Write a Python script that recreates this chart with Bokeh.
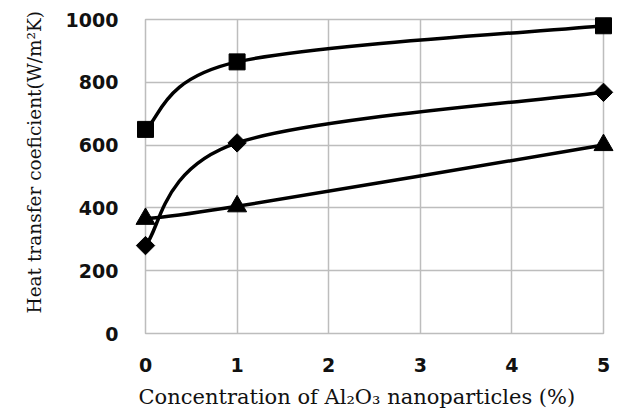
import numpy as np
from bokeh.plotting import figure
from bokeh.models import ColumnDataSource, FixedTicker, Range1d, Title
from bokeh.embed import file_html
from bokeh.resources import INLINE

# Nanoparticle concentration (%) and measured heat transfer coefficients (W/m2K)
concentration = [0, 1, 5]
series_square = [650, 865, 980]
series_diamond = [280, 607, 768]
series_triangle = [365, 405, 600]

x_ticks = [0, 1, 2, 3, 4, 5]
y_ticks = [0, 200, 400, 600, 800, 1000]

x_title = "Concentration of Al\u2082O\u2083 nanoparticles (%)"
y_title = "Heat transfer coeficient(W/m\u00b2K)"


def smooth_segments(xs, ys, t=1.0 / 6.0):
    """Cubic Bezier segments for a smoothed line through the points."""
    n = len(xs)
    seg = dict(x0=[], y0=[], x1=[], y1=[], cx0=[], cy0=[], cx1=[], cy1=[])
    for i in range(n - 1):
        xp, yp = (xs[i - 1], ys[i - 1]) if i > 0 else (xs[i], ys[i])
        xn, yn = (xs[i + 2], ys[i + 2]) if i + 2 < n else (xs[i + 1], ys[i + 1])
        seg["x0"].append(xs[i]); seg["y0"].append(ys[i])
        seg["x1"].append(xs[i + 1]); seg["y1"].append(ys[i + 1])
        seg["cx0"].append(xs[i] + (xs[i + 1] - xp) * t)
        seg["cy0"].append(ys[i] + (ys[i + 1] - yp) * t)
        seg["cx1"].append(xs[i + 1] - (xn - xs[i]) * t)
        seg["cy1"].append(ys[i + 1] - (yn - ys[i]) * t)
    return ColumnDataSource(seg)


p = figure(width=633, height=418, output_backend="svg", toolbar_location=None,
           x_range=Range1d(0, 5), y_range=Range1d(0, 1000),
           min_border_left=145, min_border_right=30,
           min_border_top=19, min_border_bottom=85)
p.background_fill_color = "white"
p.border_fill_color = "white"
p.outline_line_color = "#bdbdbd"
p.outline_line_width = 1.5

for grid in (p.xgrid, p.ygrid):
    grid.grid_line_color = "#bdbdbd"
    grid.grid_line_width = 1.5
p.xgrid.ticker = FixedTicker(ticks=x_ticks)
p.ygrid.ticker = FixedTicker(ticks=y_ticks)

for ax in (p.xaxis, p.yaxis):
    ax.axis_line_color = None
    ax.major_tick_line_color = None
    ax.minor_tick_line_color = None
    ax.major_label_text_font = "DejaVu Sans"
    ax.major_label_text_font_style = "bold"
    ax.major_label_text_font_size = "19px"
    ax.major_label_text_color = "#111111"

p.xaxis.ticker = FixedTicker(ticks=x_ticks)
p.yaxis.ticker = FixedTicker(ticks=y_ticks)
p.xaxis.major_label_standoff = 18
p.yaxis.major_label_standoff = 21

# Axis titles, placed from the frame's left / bottom edge
title_style = dict(text_font="DejaVu Serif", text_color="#111111",
                   text_font_style="normal", align="left")
p.add_layout(Title(text=x_title, text_font_size="21px", offset=-7,
                   standoff=17, **title_style), "below")
p.add_layout(Title(text=y_title, text_font_size="18.5px", offset=20,
                   standoff=36, **title_style), "left")

for ys in (series_square, series_diamond, series_triangle):
    p.bezier(x0="x0", y0="y0", x1="x1", y1="y1", cx0="cx0", cy0="cy0",
             cx1="cx1", cy1="cy1", source=smooth_segments(concentration, ys),
             line_color="black", line_width=3.5)

marks = [
    p.scatter(concentration, series_square, marker="square", size=16,
              fill_color="black", line_color="black"),
    p.scatter(concentration, series_diamond, marker="square", size=13,
              angle=np.pi / 4, fill_color="black", line_color="black"),
    p.scatter(concentration, series_triangle, marker="triangle", size=19,
              fill_color="black", line_color="black"),
]
for r in marks:
    r.level = "overlay"

open("out.html", "w").write(file_html(p, INLINE))
